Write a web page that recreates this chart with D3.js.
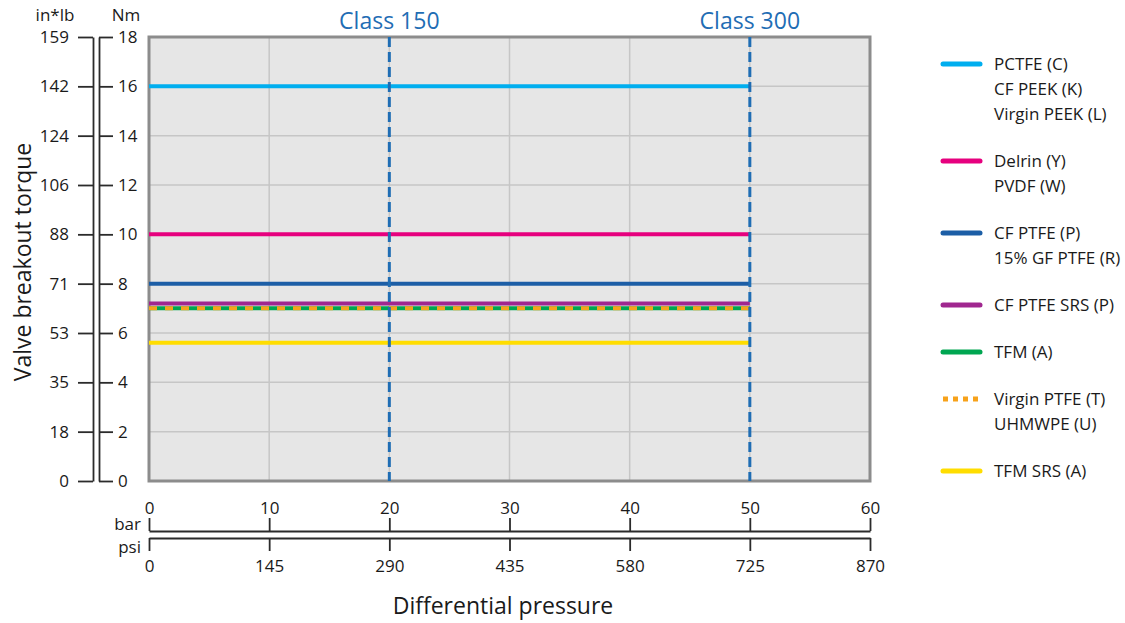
<!DOCTYPE html>
<html>
<head>
<meta charset="utf-8">
<script src="https://cdn.jsdelivr.net/npm/d3@7"></script>
<style>
  html, body { margin: 0; padding: 0; background: #fff; }
  svg { display: block; font-family: "Open Sans", "Noto Sans", sans-serif; }
</style>
</head>
<body>
<svg id="chart" width="1125" height="623"></svg>
<script>
// ---- data ----
const nmTicks = [0, 2, 4, 6, 8, 10, 12, 14, 16, 18];
const inlbTickLabels = ["0", "18", "35", "53", "71", "88", "106", "124", "142", "159"];
const barTicks = [0, 10, 20, 30, 40, 50, 60];
const psiTicks = [0, 145, 290, 435, 580, 725, 870];
const classNames = ["Class 150", "Class 300"];
const classBar = [20, 50];

const seriesKeys = ["pctfe", "delrin", "cfptfe", "cfptfesrs", "tfm", "virginptfe", "tfmsrs"];
const seriesLabels = [
  ["PCTFE (C)", "CF PEEK (K)", "Virgin PEEK (L)"],
  ["Delrin (Y)", "PVDF (W)"],
  ["CF PTFE (P)", "15% GF PTFE (R)"],
  ["CF PTFE SRS (P)"],
  ["TFM (A)"],
  ["Virgin PTFE (T)", "UHMWPE (U)"],
  ["TFM SRS (A)"]
];
const seriesNm = [16, 10, 8, 7.2, 7.0, 7.0, 5.6];
const seriesStartBar = [0, 0, 0, 0, 0, 0, 0];
const seriesEndBar = [50, 50, 50, 50, 50, 50, 50];
const seriesColors = ["#00aeef", "#e6007e", "#1c5ea6", "#a0278f", "#00a651", "#f7a21b", "#ffdd00"];
const seriesDash = [null, null, null, null, null, "8,8", null];
const legendDash = [null, null, null, null, null, "5,5", null];

// ---- layout ----
const svg = d3.select("#chart");
const plot = { left: 149, right: 870, top: 37, bottom: 481 };
const x = d3.scaleLinear().domain([0, 60]).range([plot.left, plot.right]);
const xPsi = d3.scaleLinear().domain([0, 870]).range([plot.left, plot.right]);
const y = d3.scaleLinear().domain([0, 18]).range([plot.bottom, plot.top]);
const axisColor = "#2b2b2b";
const fontSize = 17;

// plot background
svg.append("rect")
  .attr("x", plot.left).attr("y", plot.top)
  .attr("width", plot.right - plot.left).attr("height", plot.bottom - plot.top)
  .attr("fill", "#e6e6e6");

// grid
svg.append("g").selectAll("line").data(barTicks.slice(1, -1)).join("line")
  .attr("x1", d => x(d)).attr("x2", d => x(d))
  .attr("y1", plot.top).attr("y2", plot.bottom)
  .attr("stroke", "#c6c6c6").attr("stroke-width", 1.5);
svg.append("g").selectAll("line").data(nmTicks.slice(1, -1)).join("line")
  .attr("x1", plot.left).attr("x2", plot.right)
  .attr("y1", d => y(d)).attr("y2", d => y(d))
  .attr("stroke", "#c6c6c6").attr("stroke-width", 1.5);

// border
svg.append("rect")
  .attr("x", plot.left).attr("y", plot.top)
  .attr("width", plot.right - plot.left).attr("height", plot.bottom - plot.top)
  .attr("fill", "none").attr("stroke", "#8c8c8c").attr("stroke-width", 3);

// series lines
const lineGen = d3.line().x(d => x(d[0])).y(d => y(d[1]));
seriesKeys.forEach((k, i) => {
  const pts = [[seriesStartBar[i], seriesNm[i]], [seriesEndBar[i], seriesNm[i]]];
  svg.append("path")
    .attr("d", lineGen(pts))
    .attr("fill", "none")
    .attr("stroke", seriesColors[i])
    .attr("stroke-width", 4)
    .attr("stroke-dasharray", seriesDash[i]);
});

// class lines
classBar.forEach((b, i) => {
  svg.append("line")
    .attr("x1", x(b)).attr("x2", x(b))
    .attr("y1", plot.top).attr("y2", plot.bottom)
    .attr("stroke", "#1f6db4").attr("stroke-width", 3)
    .attr("stroke-dasharray", "10,5");
  svg.append("text")
    .attr("x", x(b)).attr("y", 29)
    .attr("text-anchor", "middle")
    .attr("fill", "#1f6db4")
    .attr("font-size", 23)
    .text(classNames[i]);
});

function styleAxis(g) {
  g.selectAll("path, line").attr("stroke", axisColor).attr("stroke-width", 1.8);
  g.selectAll("text").attr("fill", "#1a1a1a").attr("font-size", fontSize)
    .attr("font-family", "\"Open Sans\", \"Noto Sans\", sans-serif");
}

// left axes
const inlbAxis = d3.axisLeft(y).tickValues(nmTicks).tickSize(15).tickSizeOuter(0).tickPadding(9)
  .tickFormat((d, i) => inlbTickLabels[i]);
svg.append("g").attr("transform", "translate(93,0)").call(inlbAxis).call(styleAxis);

const nmAxis = d3.axisRight(y).tickValues(nmTicks).tickSize(14).tickSizeOuter(0).tickPadding(5)
  .tickFormat(d3.format("d"));
svg.append("g").attr("transform", "translate(99,0)").call(nmAxis).call(styleAxis);

svg.append("text").attr("x", 55).attr("y", 21).attr("text-anchor", "middle")
  .attr("font-size", fontSize).attr("fill", "#1a1a1a").text("in*lb");
svg.append("text").attr("x", 126).attr("y", 21).attr("text-anchor", "middle")
  .attr("font-size", fontSize).attr("fill", "#1a1a1a").text("Nm");

svg.append("text")
  .attr("transform", "translate(31,262) rotate(-90)")
  .attr("text-anchor", "middle")
  .attr("font-size", 23).attr("fill", "#1a1a1a")
  .text("Valve breakout torque");

// bottom axes
const barAxis = d3.axisTop(x).tickValues(barTicks).tickSize(13).tickSizeOuter(0).tickPadding(4)
  .tickFormat(d3.format("d"));
svg.append("g").attr("transform", "translate(0,531)").call(barAxis).call(styleAxis);

const psiAxis = d3.axisBottom(xPsi).tickValues(psiTicks).tickSize(13).tickSizeOuter(0).tickPadding(9)
  .tickFormat(d3.format("d"));
svg.append("g").attr("transform", "translate(0,538)").call(psiAxis).call(styleAxis);

svg.append("text").attr("x", 141).attr("y", 530).attr("text-anchor", "end")
  .attr("font-size", fontSize).attr("fill", "#1a1a1a").text("bar");
svg.append("text").attr("x", 141).attr("y", 553).attr("text-anchor", "end")
  .attr("font-size", fontSize).attr("fill", "#1a1a1a").text("psi");

svg.append("text")
  .attr("x", 503).attr("y", 614)
  .attr("text-anchor", "middle")
  .attr("font-size", 23).attr("fill", "#1a1a1a")
  .text("Differential pressure");

// legend
const legend = svg.append("g");
let ly = 64;
const lineH = 25;
seriesKeys.forEach((k, i) => {
  legend.append("line")
    .attr("x1", 943).attr("x2", 980)
    .attr("y1", ly).attr("y2", ly)
    .attr("stroke", seriesColors[i]).attr("stroke-width", 5)
    .attr("stroke-linecap", legendDash[i] ? "butt" : "round")
    .attr("stroke-dasharray", legendDash[i]);
  seriesLabels[i].forEach((t, j) => {
    legend.append("text")
      .attr("x", 994).attr("y", ly + j * lineH)
      .attr("dy", "0.35em")
      .attr("font-size", fontSize).attr("fill", "#1a1a1a")
      .text(t);
  });
  ly += seriesLabels[i].length * lineH + 22;
});
</script>
</body>
</html>
